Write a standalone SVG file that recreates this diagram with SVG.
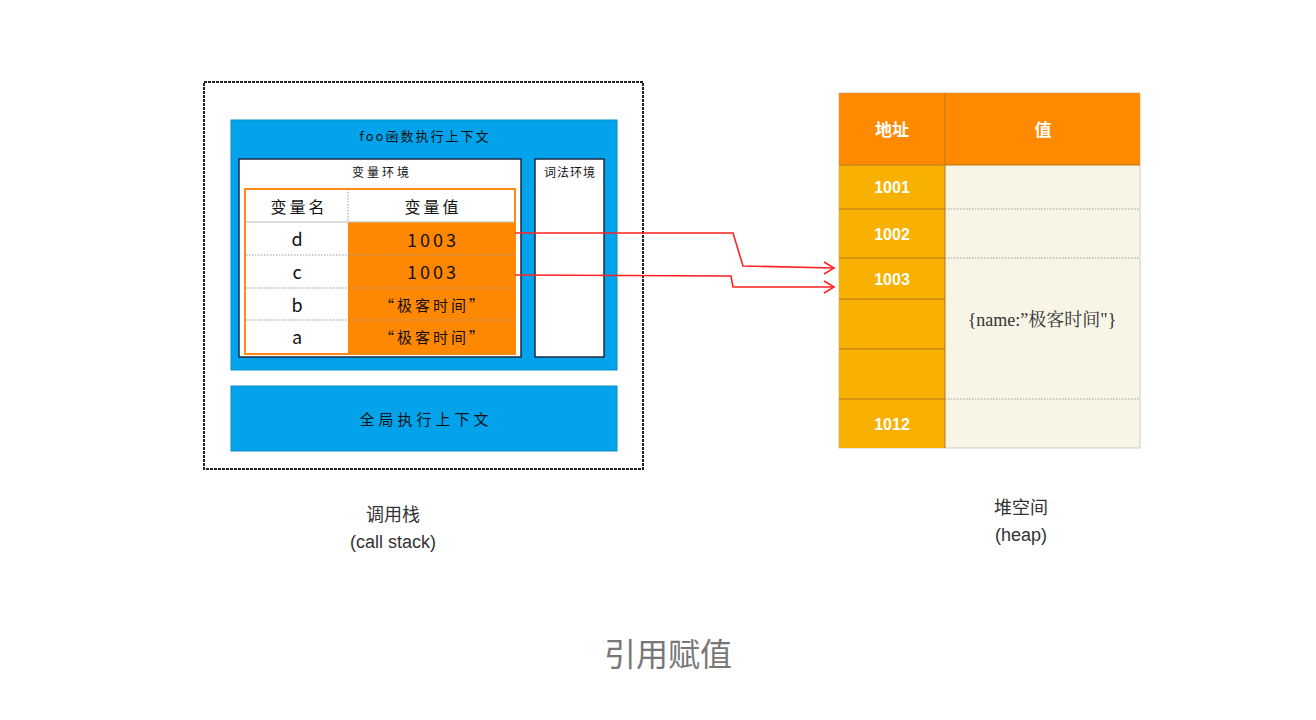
<svg xmlns="http://www.w3.org/2000/svg" width="1316" height="720" viewBox="0 0 1316 720">
<style>
.hand{font-family:"Noto Sans CJK SC","Noto Sans",sans-serif;fill:#111;}
.lbl{font-family:"Liberation Sans","Noto Sans CJK SC",sans-serif;fill:#333;}
.w{font-family:"Liberation Sans","Noto Sans CJK SC",sans-serif;fill:#fff;font-weight:bold;}
.dot{stroke:#999;stroke-width:1;stroke-dasharray:1.5 1.5;fill:none;}
.solid{stroke:#b5791a;stroke-width:1;}
.red{fill:none;stroke:#f22;stroke-width:1.6;}
</style>
<rect width="1316" height="720" fill="#fff"/>
<g id="callstack">
<rect x="204" y="82" width="439" height="387" fill="#fff" stroke="#222" stroke-width="2" stroke-dasharray="3 1"/>
</g>
<g id="foo-context">
<rect x="231" y="120" width="386" height="250" fill="#02A3EB" stroke="#0a8fc8" stroke-width="1"/>
<text x="425" y="141" class="hand" font-size="13" letter-spacing="2" text-anchor="middle">foo函数执行上下文</text>
</g>
<g id="variable-env">
<rect x="239" y="159" width="282" height="198" fill="#fff" stroke="#1a2a44" stroke-width="1.5"/>
<text x="382" y="177" class="hand" font-size="12" letter-spacing="3" text-anchor="middle">变量环境</text>
</g>
<g id="lexical-env">
<rect x="535" y="159" width="69" height="198" fill="#fff" stroke="#1a2a44" stroke-width="1.5"/>
<text x="570" y="177" class="hand" font-size="12" letter-spacing="1" text-anchor="middle">词法环境</text>
</g>
<g id="var-table">
<rect x="245" y="189" width="270" height="165" fill="#fff" stroke="#FF8A14" stroke-width="2"/>
<rect x="348" y="222" width="167" height="132" fill="#FF8800"/>
<line x1="348" y1="189" x2="348" y2="222" class="dot"/>
<line x1="246" y1="222" x2="514" y2="222" stroke="#bbb" stroke-width="1"/>
<line x1="246" y1="255" x2="514" y2="255" class="dot"/>
<line x1="246" y1="288" x2="514" y2="288" class="dot"/>
<line x1="246" y1="320" x2="514" y2="320" class="dot"/>
<text x="299" y="213" class="hand" font-size="16" letter-spacing="3" text-anchor="middle">变量名</text>
<text x="433" y="213" class="hand" font-size="16" letter-spacing="3" text-anchor="middle">变量值</text>
<text x="297" y="246" class="hand" font-size="18" text-anchor="middle">d</text>
<text x="297" y="279" class="hand" font-size="18" text-anchor="middle">c</text>
<text x="297" y="312" class="hand" font-size="18" text-anchor="middle">b</text>
<text x="297" y="344" class="hand" font-size="18" text-anchor="middle">a</text>
<text x="433" y="247" class="hand" font-size="18" letter-spacing="3" text-anchor="middle">1003</text>
<text x="433" y="279" class="hand" font-size="18" letter-spacing="3" text-anchor="middle">1003</text>
<text x="433" y="311" class="hand" font-size="15" letter-spacing="3" text-anchor="middle">“极客时间”</text>
<text x="433" y="343" class="hand" font-size="15" letter-spacing="3" text-anchor="middle">“极客时间”</text>
</g>
<g id="global-context">
<rect x="231" y="386" width="386" height="65" fill="#02A3EB" stroke="#0a8fc8" stroke-width="1"/>
<text x="426" y="425" class="hand" font-size="15" letter-spacing="4" text-anchor="middle">全局执行上下文</text>
</g>
<g id="heap">
<rect x="839" y="93" width="301" height="355" fill="#F8F5E6" stroke="#ccc" stroke-width="1"/>
<rect x="839" y="93" width="301" height="72" fill="#FF8A00"/>
<rect x="839" y="165" width="106" height="283" fill="#F8B100"/>
<line x1="945" y1="93" x2="945" y2="448" class="solid"/>
<line x1="839" y1="165" x2="1140" y2="165" class="solid"/>
<line x1="839" y1="209" x2="945" y2="209" class="solid"/>
<line x1="839" y1="258" x2="945" y2="258" class="solid"/>
<line x1="839" y1="299" x2="945" y2="299" class="solid"/>
<line x1="839" y1="349" x2="945" y2="349" class="solid"/>
<line x1="839" y1="399" x2="945" y2="399" class="solid"/>
<line x1="945" y1="209" x2="1140" y2="209" class="dot"/>
<line x1="945" y1="258" x2="1140" y2="258" class="dot"/>
<line x1="945" y1="399" x2="1140" y2="399" class="dot"/>
<text x="892" y="136" class="w" font-size="17" text-anchor="middle">地址</text>
<text x="1043" y="136" class="w" font-size="17" text-anchor="middle">值</text>
<text x="892" y="193" class="w" font-size="16" text-anchor="middle">1001</text>
<text x="892" y="240" class="w" font-size="16" text-anchor="middle">1002</text>
<text x="892" y="285" class="w" font-size="16" text-anchor="middle">1003</text>
<text x="892" y="430" class="w" font-size="16" text-anchor="middle">1012</text>
<text x="1042" y="326" font-family="Liberation Serif,'Noto Serif CJK SC','Noto Sans CJK SC',serif" font-size="18" fill="#333" text-anchor="middle">{name:”极客时间"}</text>
</g>
<g id="connectors">
<path class="red" d="M515 233 L733 233 L743 266 L833 268"/>
<path class="red" d="M824 262 L834 268 L824 274"/>
<path class="red" d="M515 275 L731 276 L733 287 L833 287"/>
<path class="red" d="M824 281 L834 287 L824 293"/>
</g>
<g id="labels">
<text x="393" y="521" class="lbl" font-size="18" text-anchor="middle">调用栈</text>
<text x="393" y="548" class="lbl" font-size="18" text-anchor="middle">(call stack)</text>
<text x="1021" y="514" class="lbl" font-size="18" text-anchor="middle">堆空间</text>
<text x="1021" y="541" class="lbl" font-size="18" text-anchor="middle">(heap)</text>
<text x="668" y="666" font-family="'Noto Sans CJK SC',sans-serif" font-size="32" fill="#777" text-anchor="middle">引用赋值</text>
</g>
</svg>
